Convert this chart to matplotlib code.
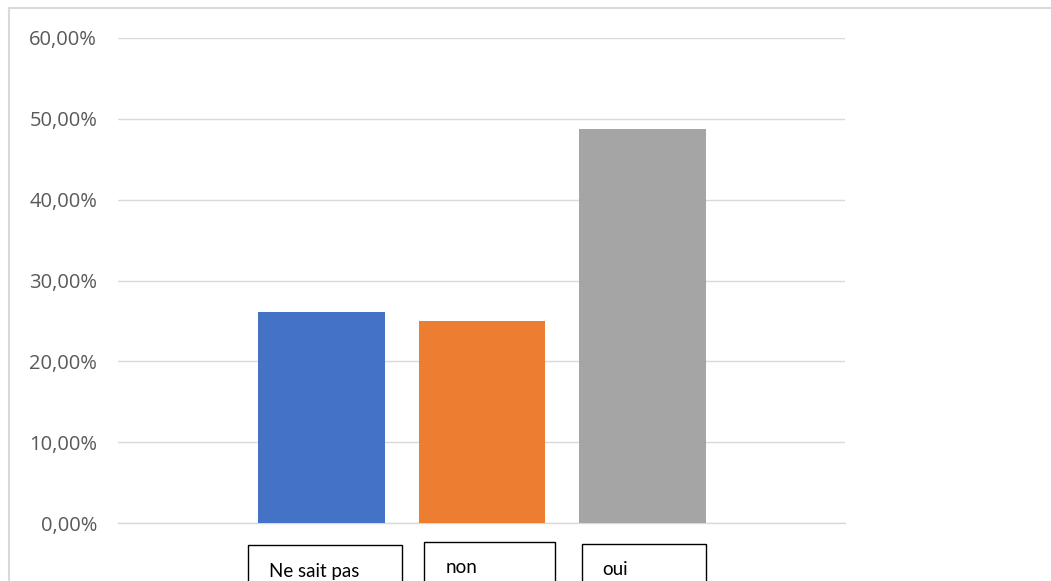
import matplotlib
matplotlib.use('Agg')
from matplotlib import pyplot as plt
from matplotlib.patches import Rectangle
from matplotlib.lines import Line2D
import matplotlib.transforms as mtransforms

# Data
categories = ["Ne sait pas", "non", "oui"]
values = [26.1, 25.0, 48.7]
colors = ["#4472C4", "#ED7D31", "#A5A5A5"]
y_ticks = [0, 10, 20, 30, 40, 50, 60]
y_tick_labels = ["0,00%", "10,00%", "20,00%", "30,00%", "40,00%", "50,00%", "60,00%"]

# label box layout (x offsets from bar centre, in category units)
box_left = [-0.458, -0.364, -0.377]
box_right = [0.501, 0.452, 0.396]
box_top = [-0.0454, -0.0392, -0.0433]
text_left = [-0.328, -0.227, -0.252]
text_base = [-0.111, -0.104, -0.107]


def main():
    fig = plt.figure(figsize=(10.51, 5.81), dpi=100)
    ax = fig.add_axes([118 / 1051, 58 / 581, 727 / 1051, 485 / 581])

    x = list(range(len(categories)))
    ax.bar(x, values, width=0.79, color=colors, zorder=3)

    ax.set_xlim(-1.268, 3.262)
    ax.set_ylim(0, 60)
    ax.set_yticks(y_ticks)
    ax.set_yticklabels(y_tick_labels, fontfamily="Open Sans", fontsize=14.5, color="#595959")
    ax.tick_params(axis="y", length=0, pad=15)
    ax.set_xticks([])
    ax.grid(True, axis="y", color="#D9D9D9", linewidth=1.0, zorder=0)
    for s in ["top", "right", "left"]:
        ax.spines[s].set_visible(False)
    ax.spines["bottom"].set_color("#D9D9D9")
    ax.spines["bottom"].set_linewidth(1.0)

    # category labels in boxes below the axis
    trans = mtransforms.blended_transform_factory(ax.transData, ax.transAxes)
    for i, cat in enumerate(categories):
        rect = Rectangle((i + box_left[i], box_top[i] - 0.2), box_right[i] - box_left[i], 0.2,
                         transform=trans, fill=False, edgecolor="black", linewidth=1.0, clip_on=False)
        ax.add_patch(rect)
        ax.text(i + text_left[i], text_base[i], cat, transform=trans, ha="left", va="baseline",
                fontfamily="Lato", fontsize=13.5, color="black", clip_on=False)

    # outer chart border (top and left visible)
    fig.add_artist(Line2D([9 / 1051, 9 / 1051], [0, 1 - 8 / 581], color="#D9D9D9", linewidth=1.5))
    fig.add_artist(Line2D([9 / 1051, 1], [1 - 8 / 581, 1 - 8 / 581], color="#D9D9D9", linewidth=1.5))

    plt.savefig("out.png", dpi=100)
    plt.close(fig)


if __name__ == "__main__":
    main()
